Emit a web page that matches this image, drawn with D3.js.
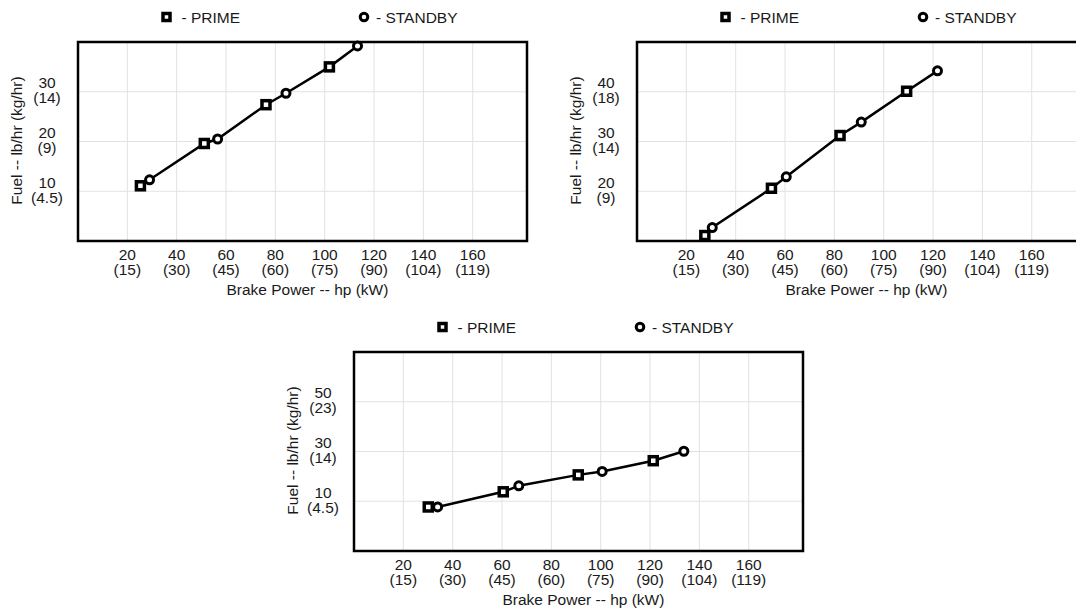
<!DOCTYPE html>
<html>
<head>
<meta charset="utf-8">
<script src="https://cdn.jsdelivr.net/npm/d3@7"></script>
<style>
  body { margin: 0; background: #fff; }
  svg { display: block; font-family: "Liberation Sans", Arial, sans-serif; }
</style>
</head>
<body>
<svg id="chart" width="1076" height="609"></svg>
<script>
// x axis ticks, shared by all three panels
const hpTicks = [20, 40, 60, 80, 100, 120, 140, 160];
const kwTicks = ["(15)", "(30)", "(45)", "(60)", "(75)", "(90)", "(104)", "(119)"];

// panel 1 (top left)
const p1PrimeHp = [25.3, 51.2, 76.2, 101.9];
const p1PrimeFuel = [11.1, 19.6, 27.4, 35.0];
const p1StandbyHp = [29.0, 56.6, 84.3, 113.3];
const p1StandbyFuel = [12.3, 20.5, 29.7, 39.2];
const p1YTicks = [10, 20, 30];
const p1YKg = ["(4.5)", "(9)", "(14)"];

// panel 2 (top right)
const p2PrimeHp = [27.5, 54.5, 82.3, 109.3];
const p2PrimeFuel = [11.1, 20.6, 31.2, 40.1];
const p2StandbyHp = [30.5, 60.5, 90.9, 121.8];
const p2StandbyFuel = [12.7, 22.9, 33.9, 44.2];
const p2YTicks = [20, 30, 40];
const p2YKg = ["(9)", "(14)", "(18)"];

// panel 3 (bottom)
const p3PrimeHp = [30.1, 60.5, 90.9, 121.3];
const p3PrimeFuel = [7.7, 13.8, 20.6, 26.3];
const p3StandbyHp = [33.9, 66.8, 100.6, 133.7];
const p3StandbyFuel = [7.7, 16.2, 22.0, 30.1];
const p3YTicks = [10, 30, 50];
const p3YKg = ["(4.5)", "(14)", "(23)"];

const svg = d3.select("#chart");
const W = 449, H = 199;
const txt = "#1a1a1a";
const fs = 15.5;

function drawPanel(left, top, yDomain, yTicks, yKg, primeHp, primeFuel, standbyHp, standbyFuel) {
  const g = svg.append("g").attr("transform", `translate(${left},${top})`);
  const x = d3.scaleLinear().domain([0, 182]).range([0, W]);
  const y = d3.scaleLinear().domain(yDomain).range([H, 0]);

  // grid
  g.selectAll(".vgrid").data(hpTicks).join("line")
    .attr("x1", d => x(d)).attr("x2", d => x(d))
    .attr("y1", 0).attr("y2", H)
    .attr("stroke", "#e2e2e2").attr("stroke-width", 1);
  g.selectAll(".hgrid").data(yTicks).join("line")
    .attr("x1", 0).attr("x2", W)
    .attr("y1", d => y(d)).attr("y2", d => y(d))
    .attr("stroke", "#e2e2e2").attr("stroke-width", 1);

  // frame
  g.append("rect").attr("width", W).attr("height", H)
    .attr("fill", "none").attr("stroke", "#000").attr("stroke-width", 2.5);

  // x tick labels, two lines
  const xl = g.selectAll(".xl").data(hpTicks).join("text")
    .attr("text-anchor", "middle").attr("font-size", fs).attr("fill", txt);
  xl.append("tspan").attr("x", d => x(d)).attr("y", H + 19).text(d => d);
  xl.append("tspan").attr("x", d => x(d)).attr("y", H + 34).text((d, i) => kwTicks[i]);

  g.append("text").attr("x", x(93)).attr("y", H + 54)
    .attr("text-anchor", "middle").attr("font-size", fs).attr("fill", txt)
    .text("Brake Power -- hp (kW)");

  // y tick labels, two lines
  const yl = g.selectAll(".yl").data(yTicks).join("text")
    .attr("text-anchor", "middle").attr("font-size", fs).attr("fill", txt);
  yl.append("tspan").attr("x", -31).attr("y", d => y(d) - 3.5).text(d => d);
  yl.append("tspan").attr("x", -31).attr("y", d => y(d) + 11.5).text((d, i) => yKg[i]);

  g.append("text")
    .attr("transform", `translate(-56,${H / 2 - 1}) rotate(-90)`)
    .attr("text-anchor", "middle").attr("font-size", fs).attr("fill", txt)
    .text("Fuel -- lb/hr (kg/hr)");

  // line through all points, sorted by hp
  const pts = primeHp.map((d, i) => [d, primeFuel[i]])
    .concat(standbyHp.map((d, i) => [d, standbyFuel[i]]))
    .sort((a, b) => a[0] - b[0]);
  g.append("path").datum(pts)
    .attr("d", d3.line().x(d => x(d[0])).y(d => y(d[1])))
    .attr("fill", "none").attr("stroke", "#000").attr("stroke-width", 2.5);

  // markers
  g.selectAll(".prime").data(primeHp).join("rect")
    .attr("x", d => x(d) - 4).attr("y", (d, i) => y(primeFuel[i]) - 4)
    .attr("width", 8).attr("height", 8)
    .attr("fill", "#fff").attr("stroke", "#000").attr("stroke-width", 3.5);
  g.selectAll(".standby").data(standbyHp).join("circle")
    .attr("cx", d => x(d)).attr("cy", (d, i) => y(standbyFuel[i]))
    .attr("r", 4).attr("fill", "#fff").attr("stroke", "#000").attr("stroke-width", 3);

  // legend
  const lg = g.append("g").attr("transform", "translate(0,-25)");
  lg.append("rect").attr("x", 88.5 - 3.5).attr("y", -3.5).attr("width", 7).attr("height", 7)
    .attr("fill", "#fff").attr("stroke", "#000").attr("stroke-width", 3.5);
  lg.append("text").attr("x", 103.5).attr("y", 5.5).attr("font-size", fs).attr("fill", txt)
    .text("- PRIME");
  lg.append("circle").attr("cx", 286).attr("cy", 0).attr("r", 3.8)
    .attr("fill", "#fff").attr("stroke", "#000").attr("stroke-width", 3);
  lg.append("text").attr("x", 298).attr("y", 5.5).attr("font-size", fs).attr("fill", txt)
    .text("- STANDBY");
}

drawPanel(78, 42, [0, 40], p1YTicks, p1YKg, p1PrimeHp, p1PrimeFuel, p1StandbyHp, p1StandbyFuel);
drawPanel(637, 42, [10, 50], p2YTicks, p2YKg, p2PrimeHp, p2PrimeFuel, p2StandbyHp, p2StandbyFuel);
drawPanel(354, 352, [-10, 70], p3YTicks, p3YKg, p3PrimeHp, p3PrimeFuel, p3StandbyHp, p3StandbyFuel);
</script>
</body>
</html>
